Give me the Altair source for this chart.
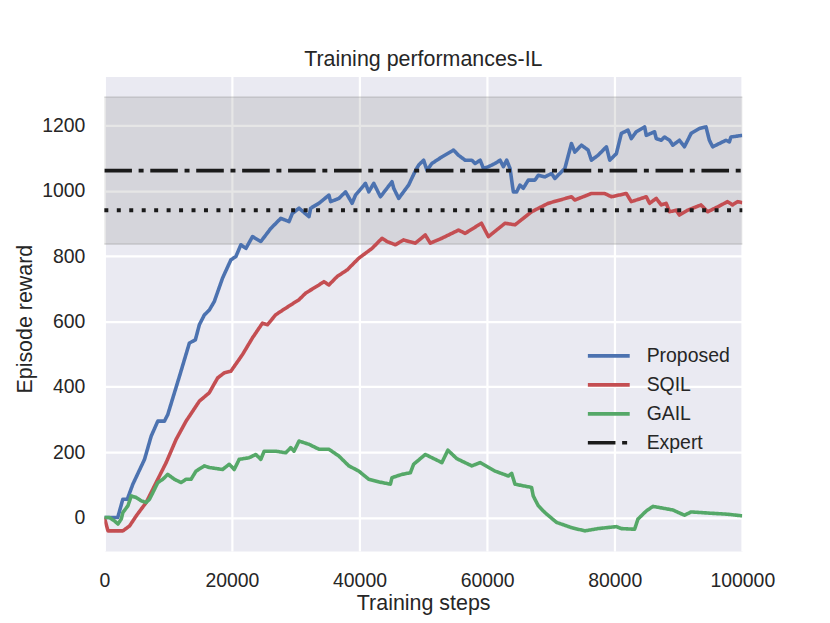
import altair as alt
import pandas as pd

# ---------------- data ----------------
steps_proposed = [0, 2100, 2900, 3600, 4470, 6300, 7340, 8380, 9420, 9940, 11770, 13330, 14270, 14890,
                  15670, 16450, 17230, 18530, 19840, 20620, 21400, 22190, 23220, 24530, 26090, 27660,
                  28950, 29470, 30520, 32080, 32340, 33640, 35200, 35470, 36770, 37810, 38840, 39370,
                  40930, 41450, 42230, 43280, 45090, 45360, 46140, 47700, 48300, 48800, 49270, 50050,
                  50570, 51340, 52910, 54730, 55520, 56560, 57600, 58120, 58910, 59420, 60200, 61250,
                  62030, 62550, 63070, 63590, 64110, 64630, 65150, 65670, 66450, 67500, 68020, 69060,
                  70100, 70620, 72190, 73220, 73750, 74790, 75830, 76350, 77390, 78700, 79220, 80260,
                  81040, 82080, 82600, 83380, 84690, 84950, 86250, 86510, 87290, 87810, 88600, 89110,
                  90150, 90930, 91980, 93280, 94310, 94840, 95360, 96400, 97440, 97970, 98220, 100000]
vals_proposed = [0, 0, 56, 56, 102, 178, 249, 295, 295, 315, 432, 534, 544, 590,
                 620, 635, 661, 733, 789, 799, 835, 824, 860, 845, 885, 916,
                 906, 931, 947, 921, 947, 962, 987, 967, 977, 997, 962, 987,
                 1023, 997, 1023, 982, 1028, 1008, 977, 1018, 1043, 1063, 1079, 1094,
                 1063, 1084, 1104, 1125, 1109, 1094, 1094, 1084, 1094, 1069, 1074, 1084,
                 1094, 1074, 1094, 1069, 997, 997, 1018, 1008, 1033, 1033, 1048, 1043,
                 1053, 1038, 1069, 1145, 1119, 1140, 1125, 1094, 1109, 1135, 1094, 1114,
                 1176, 1186, 1160, 1181, 1196, 1170, 1181, 1160, 1155, 1165, 1155, 1140,
                 1155, 1135, 1176, 1191, 1196, 1155, 1135, 1145, 1155, 1150, 1165, 1170]

steps_sqil = [0, 570, 2900, 3950, 5000, 6560, 8120, 9690, 11250, 12810, 14890, 16450, 17750, 18800,
              19840, 21660, 23220, 24780, 25560, 26870, 28440, 30520, 31560, 33640, 34420, 35200,
              36500, 38060, 39890, 41970, 43530, 44310, 45620, 46920, 47700, 48750, 50310, 51090,
              52910, 55520, 56560, 59110, 60200, 62810, 64370, 66970, 69580, 73220, 73750, 76350,
              78440, 79480, 81820, 82600, 84950, 85470, 86510, 87290, 88070, 88600, 89630, 90150,
              91450, 93530, 94570, 96130, 97690, 98470, 99250, 100000]
vals_sqil = [0, -41, -41, -26, 5, 46, 107, 168, 239, 295, 356, 382, 427, 443,
             448, 499, 550, 595, 590, 621, 641, 667, 687, 712, 722, 712,
             738, 758, 794, 824, 855, 845, 835, 850, 845, 840, 865, 840,
             855, 880, 870, 901, 860, 901, 896, 936, 962, 982, 972, 992,
             992, 982, 992, 967, 982, 962, 977, 957, 962, 936, 941, 926,
             941, 957, 936, 951, 967, 957, 967, 964]

steps_gail = [0, 780, 1560, 2130, 2650, 2900, 3700, 4220, 5000, 5780, 6560, 7080, 7600, 8380, 9160,
              9940, 10980, 12030, 12810, 13590, 14370, 15670, 16450, 18530, 19580, 20360, 21140,
              22700, 23750, 24530, 25050, 26870, 28440, 29220, 29730, 30520, 32080, 33640, 35200,
              36770, 38330, 39890, 41450, 43020, 44840, 45090, 46660, 47970, 48480, 50310, 52910,
              53850, 55260, 57600, 58910, 61250, 63330, 63850, 64370, 66970, 67230, 68020, 69060,
              70880, 73220, 75310, 77390, 80260, 81040, 83120, 83640, 84950, 85990, 89110, 90930,
              91980, 95100, 97690, 100000]
vals_gail = [0, 0, -10, -20, -5, 15, 36, 66, 61, 51, 46, 56, 76, 107, 117,
             132, 117, 107, 117, 117, 142, 158, 153, 147, 163, 147, 178,
             183, 193, 178, 203, 203, 198, 214, 203, 234, 224, 209, 209,
             188, 158, 142, 117, 109, 102, 122, 132, 137, 163, 193, 168,
             206, 180, 158, 168, 142, 127, 135, 102, 92, 66, 36, 15,
             -15, -31, -41, -34, -28, -34, -36, -5, 20, 34, 23, 7,
             17, 13, 10, 5]

expert_steps = [0, 100000]
expert_mean = 1062
expert_low = 837
expert_high = 1287
threshold = 941

series_names = ["Proposed", "SQIL", "GAIL", "Expert"]
series_colors = ["#4C72B0", "#C44E52", "#55A868", "#1A1A1A"]
series_dash = [[1, 0], [1, 0], [1, 0], [27.7, 6.7, 5, 6.7]]
series_width = [3.6, 3.6, 3.6, 4.3]

x_ticks = [0, 20000, 40000, 60000, 80000, 100000]
y_ticks = [0, 200, 400, 600, 800, 1000, 1200]

# ---------------- tables ----------------
rows = []
for name, xs, ys in [("Proposed", steps_proposed, vals_proposed),
                     ("SQIL", steps_sqil, vals_sqil),
                     ("GAIL", steps_gail, vals_gail),
                     ("Expert", expert_steps, [expert_mean] * len(expert_steps))]:
    for s, v in zip(xs, ys):
        rows.append({"series": name, "step": s, "reward": v, "idx": len(rows)})
df = pd.DataFrame(rows)

band_df = pd.DataFrame({"step": [expert_steps[0]], "step2": [expert_steps[1]],
                        "reward": [expert_low], "reward2": [expert_high]})
edge_df = pd.DataFrame({"step": [expert_steps[0]] * 2, "step2": [expert_steps[1]] * 2,
                        "reward": [expert_low, expert_high]})
thr_df = pd.DataFrame({"step": [expert_steps[0]], "step2": [expert_steps[1]], "reward": [threshold]})

FONT = "Liberation Sans"
TXT = "#262626"

xscale = alt.Scale(domain=[0, 100000], nice=False, zero=False)
yscale = alt.Scale(domain=[-103, 1350], nice=False, zero=False)

x_enc = alt.X("step:Q", scale=xscale,
              axis=alt.Axis(values=x_ticks, format="d", title="Training steps",
                            labelPadding=21, labelFlush=False, labelOverlap=False,
                            titleX=320, titleY=58.5,
                            titleAlign="center", titleBaseline="alphabetic"))
y_enc = alt.Y("reward:Q", scale=yscale,
              axis=alt.Axis(values=y_ticks, format="d", title="Episode reward",
                            labelPadding=19.5, labelFlush=False, labelOverlap=False,
                            titleX=-73, titleY=243, titleAngle=-90,
                            titleAlign="center", titleBaseline="alphabetic"))

band = alt.Chart(band_df).mark_rect(color="#808080", opacity=0.2).encode(
    x=x_enc, x2="step2:Q", y=y_enc, y2="reward2:Q")

edges = alt.Chart(edge_df).mark_rule(color="#808080", opacity=0.25, strokeWidth=1.8).encode(
    x="step:Q", x2="step2:Q", y="reward:Q")

thr = alt.Chart(thr_df).mark_rule(color="#1A1A1A", strokeWidth=4, strokeDash=[4, 8.5],
                                  strokeCap="butt").encode(
    x="step:Q", x2="step2:Q", y="reward:Q")

lines = alt.Chart(df).mark_line(clip=True, strokeCap="butt", strokeJoin="round").encode(
    x="step:Q",
    y="reward:Q",
    color=alt.Color("series:N", scale=alt.Scale(domain=series_names, range=series_colors),
                    legend=alt.Legend(title=None, orient="none", legendX=490.3, legendY=264.3,
                                      symbolType="M-1.5,0L1.5,0", symbolSize=784,
                                      labelOffset=22, rowPadding=3.1, padding=0,
                                      labelFontSize=19.5, labelFont=FONT, labelColor=TXT,
                                      labelLimit=300)),
    strokeDash=alt.StrokeDash("series:N", scale=alt.Scale(domain=series_names, range=series_dash),
                              legend=alt.Legend(title=None)),
    strokeWidth=alt.StrokeWidth("series:N", scale=alt.Scale(domain=series_names, range=series_width),
                                legend=alt.Legend(title=None)),
    order=alt.Order("idx:Q"),
)

chart = alt.layer(band, edges, lines, thr).properties(
    width=640.3, height=476.3,
    autosize=alt.AutoSizeParams(type="none"),
    padding={"left": 96.7, "top": 67.7, "right": 80, "bottom": 68},
    title=alt.TitleParams("Training performances-IL", fontSize=21.5, font=FONT,
                          fontWeight="normal", color=TXT, anchor="middle",
                          baseline="alphabetic", offset=-10.4),
    background="white",
).configure_view(fill="#EAEAF2", stroke="transparent").configure_axis(
    domain=False, ticks=False, tickSize=0, grid=True, gridColor="white", gridWidth=2.2,
    labelFont=FONT, labelFontSize=19.5, labelColor=TXT,
    titleFont=FONT, titleFontSize=21.5, titleFontWeight="normal", titleColor=TXT,
)

chart.save("out.html", embed_options={"renderer": "svg", "actions": False})
